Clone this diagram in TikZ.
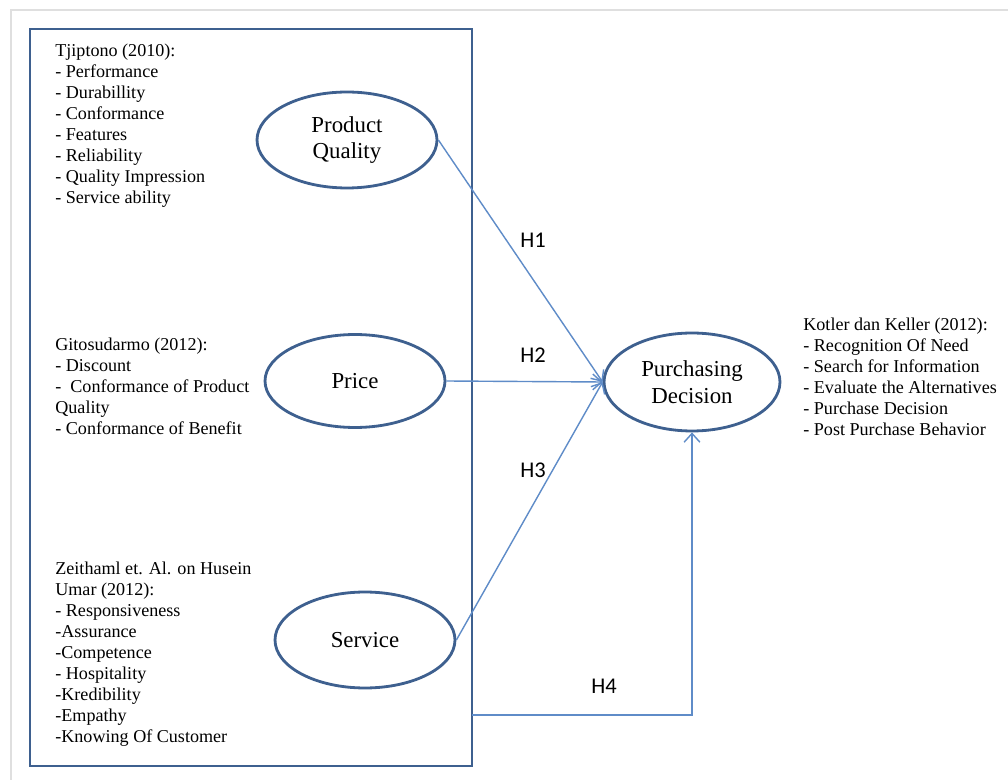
\documentclass[tikz,border=0pt]{standalone}
\usepackage{fontspec}
\setmainfont{Liberation Serif}
\newfontfamily\hfont{Carlito}
\usetikzlibrary{shapes.geometric,arrows.meta}
\definecolor{shapeblue}{RGB}{62,96,143}
\definecolor{lineblue}{RGB}{95,140,200}
\begin{document}
\begin{tikzpicture}[x=0.02cm,y=-0.02cm,
	construct/.style={ellipse,draw=shapeblue,line width=1.6pt,inner sep=0pt,minimum width=3.6cm,minimum height=1.92cm,align=center,font=\fontsize{13}{15.3}\selectfont},
	itemlist/.style={anchor=north west,inner sep=0pt,align=left,font=\fontsize{10.3}{11.95}\selectfont},
	hyp/.style={font=\hfont\fontsize{12.8}{14}\selectfont},
	link/.style={->,draw=lineblue,line width=0.8pt},
	>={Straight Barb[length=5pt,width=9pt]}]
	\useasboundingbox (0,0) rectangle (1008,780);
	\fill[white] (0,0) rectangle (1008,780);
	\draw[gray!25,line width=1.5pt] (11,780) -- (11,10) -- (1008,10);
	\draw[shapeblue,line width=1.4pt] (30,29) rectangle (472,766);
	\node[itemlist] (tjiptono) at (55,44) {Tjiptono (2010):\\- Performance\\- Durabillity\\- Conformance\\- Features\\- Reliability\\- Quality Impression\\- Service ability};
	\node[itemlist] (gitosudarmo) at (55,338) {Gitosudarmo (2012):\\- Discount\\-\ \ Conformance of Product\\Quality\\- Conformance of Benefit};
	\node[itemlist] (zeithaml) at (55,562) {Zeithaml et. Al. on Husein\\Umar (2012):\\- Responsiveness\\-Assurance\\-Competence\\- Hospitality\\-Kredibility\\-Empathy\\-Knowing Of Customer};
	\node[itemlist] (kotler) at (803,318) {Kotler dan Keller (2012):\\- Recognition Of Need\\- Search for Information\\- Evaluate the Alternatives\\- Purchase Decision\\- Post Purchase Behavior};
	\node[construct] (quality) at (347,140) {Product\\Quality};
	\node[construct,minimum height=1.86cm] (price) at (355,381) {Price};
	\node[construct] (service) at (365,640) {Service};
	\node[construct,minimum width=3.52cm,minimum height=1.96cm] (decision) at (692,382) {Purchasing\\Decision};
	\coordinate (frameedge) at (472,715);
	\draw[link] (quality.east) -- (decision.west);
	\draw[link] (price.east) -- (decision.west);
	\draw[link] (service.east) -- (decision.west);
	\draw[link] (frameedge) -| (decision.south);
	\node[hyp] (h1) at (533,240) {H1};
	\node[hyp] (h2) at (533,355) {H2};
	\node[hyp] (h3) at (533,470) {H3};
	\node[hyp] (h4) at (604,686) {H4};
\end{tikzpicture}
\end{document}
